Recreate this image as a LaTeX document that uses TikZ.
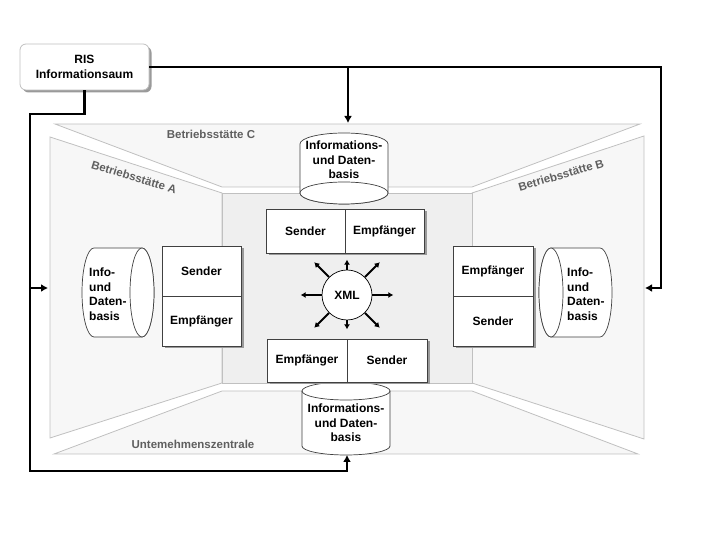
\documentclass[tikz,border=0pt]{standalone}
\usepackage{fontspec}
\setmainfont{Liberation Sans}
\usepackage{tikz}
\usetikzlibrary{arrows.meta,shadows}
\tikzset{>={Latex[width=8pt,length=7pt]}}
\definecolor{wallgray}{HTML}{F7F7F7}
\definecolor{backgray}{HTML}{EFEFEF}
\definecolor{edgegray}{HTML}{C0C0C0}
\definecolor{labelgray}{HTML}{5F5F5F}
\definecolor{boxgray}{HTML}{404040}
\definecolor{shadegray}{HTML}{9A9A9A}

\begin{document}
\begin{tikzpicture}[x=1pt, y=1pt,
  wall/.style={draw=edgegray, fill=wallgray, line width=0.8pt},
  roomlabel/.style={text=labelgray, inner sep=0pt,
    font=\fontsize{11.5}{13}\selectfont\bfseries},
  unit/.style={draw=boxgray, fill=white, line width=0.8pt,
    minimum width=79pt, minimum height=44pt, inner sep=0pt,
    font=\fontsize{12}{14}\selectfont\bfseries,
    drop shadow={shadow xshift=2.5pt, shadow yshift=-2.5pt,
      fill=shadegray, opacity=1}},
  db/.style={draw=boxgray, fill=white, line width=0.7pt},
  dbtext/.style={inner sep=0pt, align=center,
    font=\fontsize{12}{14.5}\selectfont\bfseries},
  link/.style={line width=2.5pt, line join=miter},
  spoke/.style={->, line width=1.8pt, >={Latex[width=6pt,length=5pt]}}]

  \useasboundingbox (0,0) rectangle (720,540);

  % room
  \draw[wall] (55,416) -- (640,416) -- (472,353) -- (222,353) -- cycle;
  \draw[wall] (50,403) -- (222,347) -- (222,157) -- (50,102) -- cycle;
  \draw[wall] (644,404) -- (472,347) -- (472,157) -- (644,101) -- cycle;
  \draw[wall] (222,149) -- (472,149) -- (638,86) -- (54,86) -- cycle;
  \draw[wall, fill=backgray] (222,347) rectangle (472,157);

  \node[roomlabel] (labC) at (211,406) {Betriebsstätte C};
  \node[roomlabel, rotate=-17] (labA) at (134,363) {Betriebsstätte A};
  \node[roomlabel, rotate=16] (labB) at (561,365) {Betriebsstätte B};
  \node[roomlabel] (labU) at (193,96) {Untemehmenszentrale};

  % data bases
  \draw[db] (300,396) arc[start angle=180, end angle=0, x radius=44, y radius=11]
    -- (388,347) arc[start angle=0, end angle=-180, x radius=44, y radius=11] -- cycle;
  \draw[db] (344,347) ellipse[x radius=44, y radius=11];
  \node[dbtext] (dbC) at (344,380) {Informations-\\und Daten-\\basis};

  \draw[db] (302,149) -- (302,94) arc[start angle=180, end angle=360, x radius=44, y radius=9]
    -- (390,149) arc[start angle=0, end angle=180, x radius=44, y radius=9] -- cycle;
  \draw[db] (302,149) arc[start angle=180, end angle=360, x radius=44, y radius=9];
  \node[dbtext] (dbU) at (346,117) {Informations-\\und Daten-\\basis};

  \draw[db] (94,292) arc[start angle=90, end angle=270, x radius=12, y radius=44.5]
    -- (142,203) arc[start angle=-90, end angle=90, x radius=12, y radius=44.5] -- cycle;
  \draw[db] (142,247.5) ellipse[x radius=12, y radius=44.5];
  \node[dbtext, align=left, anchor=west] (dbA) at (89,246) {Info-\\und\\Daten-\\basis};

  \draw[db] (600,203) arc[start angle=-90, end angle=90, x radius=12, y radius=44.5]
    -- (551,292) arc[start angle=90, end angle=270, x radius=12, y radius=44.5] -- cycle;
  \draw[db] (551,247.5) ellipse[x radius=12, y radius=44.5];
  \node[dbtext, align=left, anchor=west] (dbB) at (567,246) {Info-\\und\\Daten-\\basis};

  % sender and receiver units
  \node[unit] (sendC) at (305.5,309) {Sender};
  \node[unit] (recvC) at (384.5,309) {Empfänger};
  \node[unit, minimum width=80pt, minimum height=43pt] (recvU) at (307,179.5) {Empfänger};
  \node[unit, minimum width=80pt, minimum height=43pt] (sendU) at (387,179.5) {Sender};
  \node[unit, minimum height=50pt] (sendA) at (201.5,269) {Sender};
  \node[unit, minimum height=50pt] (recvA) at (201.5,219) {Empfänger};
  \node[unit, minimum width=80pt, minimum height=50pt] (recvB) at (493,269) {Empfänger};
  \node[unit, minimum width=80pt, minimum height=50pt] (sendB) at (493,219) {Sender};

  \node[circle, draw=black, fill=white, line width=0.7pt, minimum size=50pt,
    inner sep=0pt, font=\fontsize{12}{14}\selectfont\bfseries] (xml) at (347,245) {XML};
  \draw[spoke] (xml.0) -- ++(0:21);
  \draw[spoke] (xml.45) -- ++(45:21);
  \draw[spoke] (xml.90) -- ++(90:10);
  \draw[spoke] (xml.135) -- ++(135:21);
  \draw[spoke] (xml.180) -- ++(180:21);
  \draw[spoke] (xml.225) -- ++(225:21);
  \draw[spoke] (xml.270) -- ++(270:9);
  \draw[spoke] (xml.315) -- ++(315:21);

  % RIS
  \node[draw=edgegray, fill=white, rounded corners=6pt, line width=0.8pt,
    minimum width=129pt, minimum height=46pt, inner sep=0pt, align=center,
    font=\fontsize{12}{15}\selectfont\bfseries,
    drop shadow={shadow xshift=2.5pt, shadow yshift=-2.5pt, fill=shadegray, opacity=1}]
    (ris) at (84.5,473) {RIS\\Informationsaum};

  \coordinate (toC) at (348,417);
  \coordinate (toB) at (645,252);
  \coordinate (toA) at (48,252);
  \coordinate (toU) at (347,85);
  \coordinate (trunk) at (30,252);

  \draw[link, ->] (ris.east) -- (661,473) |- (toB);
  \draw[link, ->] (toC |- ris.east) -- (toC);
  \draw[link, ->] (ris.south) |- (30,426) -- (30,69) -| (toU);
  \draw[link, ->] (trunk) -- (toA);

\end{tikzpicture}
\end{document}
